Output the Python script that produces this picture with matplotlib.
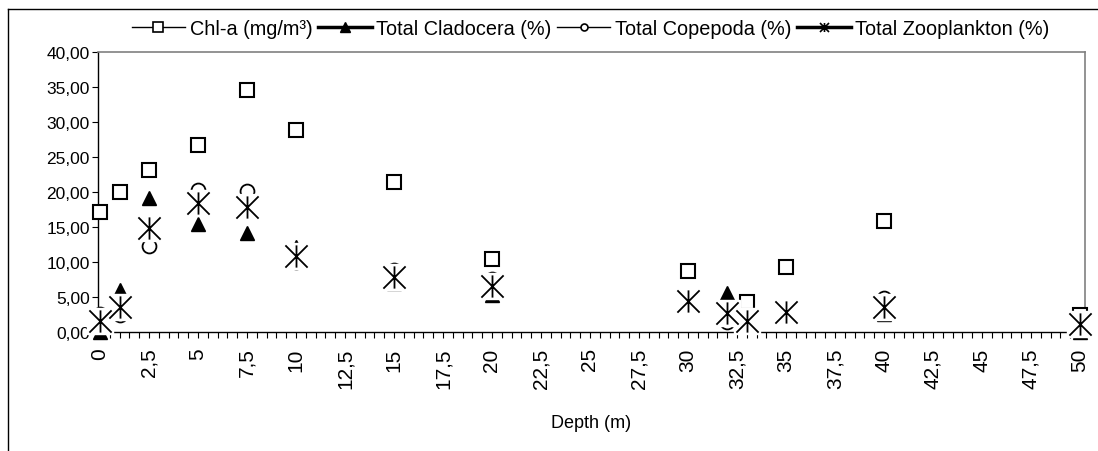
import matplotlib
matplotlib.use("Agg")
import matplotlib.pyplot as plt
from matplotlib.lines import Line2D
from matplotlib.path import Path
from matplotlib.ticker import MultipleLocator, FuncFormatter
import numpy as np

plt.rcParams['font.family'] = ['Liberation Sans', 'DejaVu Sans']

# Depth profile data
depth = [0, 1, 2.5, 5, 7.5, 10, 15, 20, 30, 32, 33, 35, 40, 50]
chl   = [17.2, 20.0, 23.1, 26.7, 34.6, 28.9, 21.4, 10.4, 8.7, 2.7, 4.3, 9.3, 15.8, 2.4]
clad  = [0, 6.0, 19.2, 15.4, 14.2, 12.1, 7.0, 5.3, 4.0, 5.6, 1.2, 3.6, 2.6, 0]
cope  = [2.5, 2.4, 12.3, 20.3, 20.1, 10.0, 8.8, 7.5, 4.6, 1.4, 2.0, 2.5, 4.9, 1.5]
zoo   = [1.6, 3.6, 14.8, 18.4, 17.9, 10.8, 7.8, 6.6, 4.4, 2.7, 1.5, 2.8, 3.6, 1.2]

labels = ["Chl-a (mg/m³)", "Total Cladocera (%)", "Total Copepoda (%)", "Total Zooplankton (%)"]

# excel-style star marker: X with a vertical bar
star = Path([(-1, -1), (1, 1), (-1, 1), (1, -1), (0, -1), (0, 1)],
            [Path.MOVETO, Path.LINETO, Path.MOVETO, Path.LINETO, Path.MOVETO, Path.LINETO])

fig = plt.figure(figsize=(10.98, 4.52), dpi=100)
ax = fig.add_axes([0.0893, 0.2633, 0.8987, 0.6194])

ax.plot(depth, chl, ls='none', marker='s', ms=9.5, mfc='white', mec='black', mew=1.5,
        zorder=3, clip_on=False)
ax.plot(depth, clad, ls='none', marker='^', ms=10, mfc='black', mec='black',
        zorder=4, clip_on=False)
ax.plot(depth, cope, ls='none', marker='o', ms=10, mfc='white', mec='black', mew=1.3,
        zorder=5, clip_on=False)
# white background box behind the star markers
ax.plot(depth, zoo, ls='none', marker='s', ms=18.5, mfc='white', mec='white',
        zorder=6, clip_on=False)
ax.plot(depth, zoo, ls='none', marker=star, ms=16, mfc='none', mec='black', mew=1.3,
        zorder=7, clip_on=False)

ax.set_xlim(-0.1, 50.25)
ax.set_ylim(0, 40)

ax.xaxis.set_major_locator(MultipleLocator(2.5))
ax.xaxis.set_minor_locator(MultipleLocator(0.5))
ax.yaxis.set_major_locator(MultipleLocator(5))

def xfmt(v, pos):
    if abs(v - round(v)) < 1e-6:
        return "%d" % round(v)
    return ("%.1f" % v).replace('.', ',')

ax.xaxis.set_major_formatter(FuncFormatter(xfmt))
ax.yaxis.set_major_formatter(FuncFormatter(lambda v, p: ("%.2f" % v).replace('.', ',')))

ax.tick_params(axis='x', which='both', direction='out', length=4, width=0.8, pad=7,
               labelsize=15, labelrotation=90)
ax.tick_params(axis='y', direction='out', length=4, width=0.8, pad=2, labelsize=12.5)
for lab in ax.get_xticklabels():
    lab.set_va('top')

for s in ['top', 'right']:
    ax.spines[s].set_color('#808080')
    ax.spines[s].set_linewidth(1.2)
for s in ['left', 'bottom']:
    ax.spines[s].set_color('black')
    ax.spines[s].set_linewidth(1.0)

ax.set_xlabel("Depth (m)", fontsize=13, labelpad=19)

handles = [
    Line2D([], [], color='black', lw=1, marker='s', ms=6.5, mfc='white', mec='black', mew=1.2),
    Line2D([], [], color='black', lw=2.5, marker='^', ms=7.5, mfc='black', mec='black'),
    Line2D([], [], color='black', lw=1, marker='o', ms=5, mfc='white', mec='black', mew=1.2),
    Line2D([], [], color='black', lw=2.5, marker=star, ms=6.5, mfc='none', mec='black', mew=1.2),
]
fig.legend(handles, labels, loc='center', bbox_to_anchor=(0.538, 0.934), ncol=4,
           frameon=False, fontsize=14.3, handlelength=2.7, handletextpad=0.25,
           columnspacing=0.25, borderaxespad=0)

# outer chart border
fig.add_artist(Line2D([8 / 1098, 1.0], [1 - 10 / 452, 1 - 10 / 452], transform=fig.transFigure,
                      color='black', lw=1))
fig.add_artist(Line2D([8 / 1098, 8 / 1098], [0, 1 - 10 / 452], transform=fig.transFigure,
                      color='black', lw=1))

fig.savefig("out.png", dpi=100)
